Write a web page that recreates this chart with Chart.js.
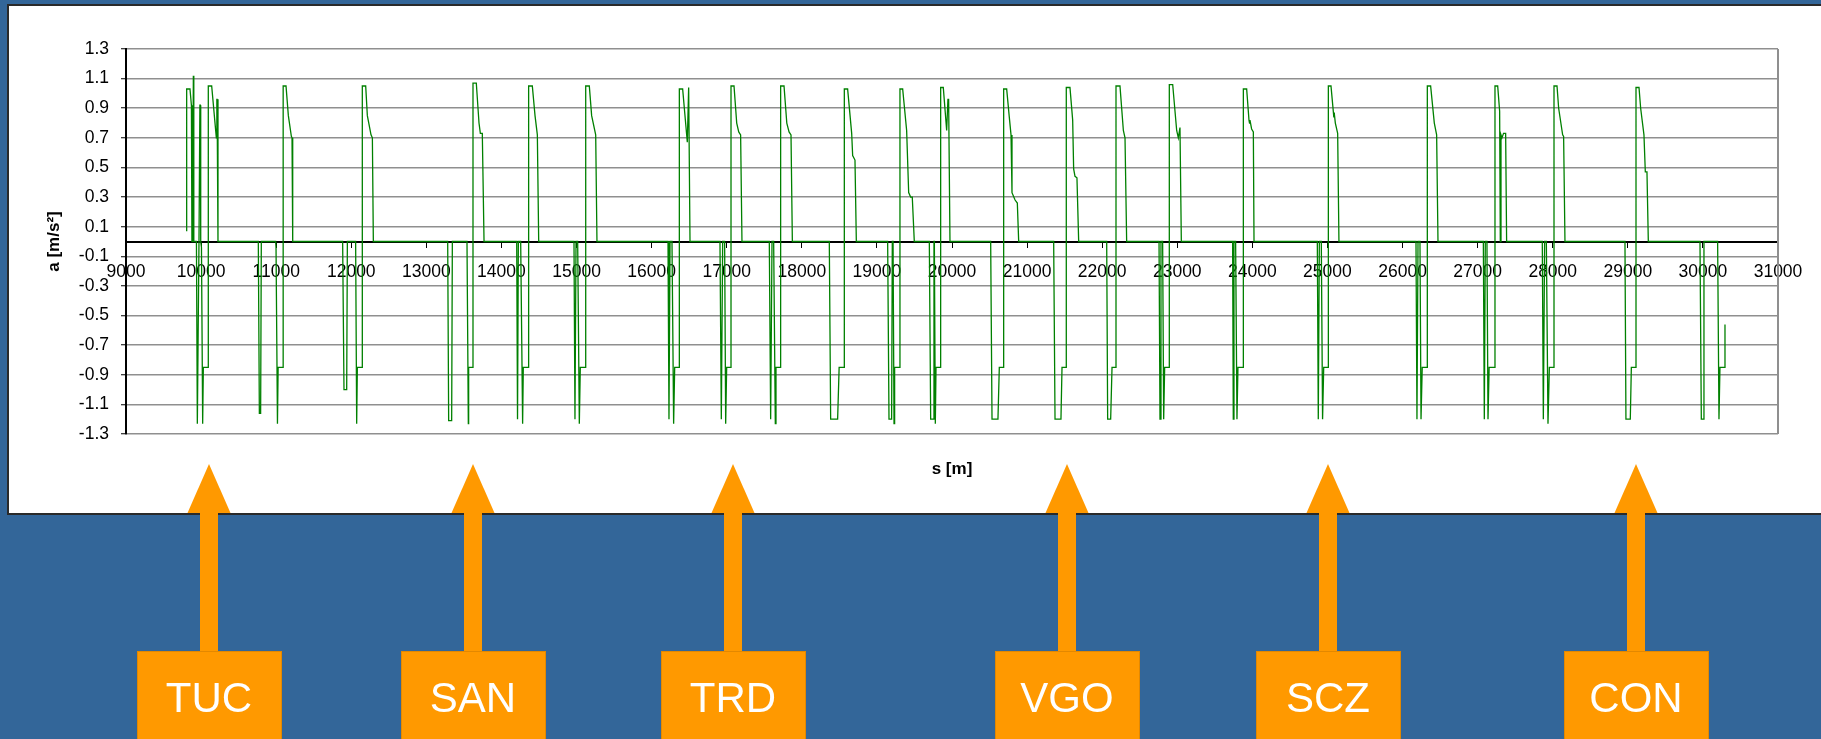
<!DOCTYPE html>
<html>
<head>
<meta charset="utf-8">
<script src="https://cdn.jsdelivr.net/npm/chart.js@4.4.0/dist/chart.umd.min.js"></script>
<style>
  html, body { margin: 0; padding: 0; width: 1821px; height: 739px; overflow: hidden; background: #336699; }
  #panel { position: absolute; left: 7px; top: 4px; width: 1830px; height: 507px; background: #ffffff; border: 2px solid #2a2a2a; }
  #chart { position: absolute; left: 0; top: 0; }
</style>
</head>
<body>
<div id="panel"></div>
<canvas id="chart" width="1821" height="739"></canvas>
<script>
// ---- data (distance s [m] and acceleration a [m/s²]) ----
const distance = [
  9808, 9808, 9852, 9871, 9878, 9888, 9897, 9903, 9938, 9950, 9972, 9984, 9990, 9995, 10005, 10021, 10030, 10096, 10096, 10141, 10203, 10210, 10213, 10225,
  10762, 10776, 10793, 10802, 10993, 10998, 11017, 11026, 11093, 11093, 11131, 11162, 11202, 11211, 11220,
  11885, 11903, 11939, 11948, 12058, 12072, 12081, 12147, 12147, 12192, 12214, 12263, 12281, 12294,
  13284, 13297, 13337, 13346, 13541, 13559, 13563, 13621, 13621, 13665, 13701, 13719, 13745, 13768,
  14203, 14214, 14225, 14256, 14282, 14291, 14362, 14362, 14411, 14447, 14478, 14496,
  14966, 14979, 14993, 15015, 15037, 15050, 15122, 15122, 15170, 15201, 15255, 15272,
  16218, 16231, 16245, 16271, 16293, 16307, 16369, 16369, 16413, 16475, 16493, 16511,
  16910, 16928, 16946, 16972, 16986, 16999, 17057, 17057, 17097, 17133, 17160, 17185, 17203,
  17567, 17585, 17603, 17625, 17647, 17656, 17718, 17718, 17763, 17800, 17830, 17856, 17874,
  18366, 18384, 18477, 18497, 18566, 18566, 18610, 18664, 18677, 18708, 18726,
  19143, 19161, 19196, 19205, 19215, 19228, 19236, 19307, 19307, 19343, 19396, 19423, 19449, 19471, 19498,
  19698, 19716, 19751, 19760, 19765, 19778, 19787, 19849, 19849, 19884, 19929, 19946, 19955, 19973,
  20515, 20533, 20612, 20630, 20688, 20688, 20728, 20763, 20786, 20799, 20840, 20870, 20888,
  21354, 21372, 21451, 21465, 21522, 21522, 21571, 21607, 21620, 21638, 21664, 21687,
  22060, 22073, 22113, 22131, 22184, 22184, 22237, 22282, 22304, 22326,
  22757, 22770, 22783, 22805, 22819, 22832, 22894, 22894, 22939, 22992, 23014, 23036, 23054,
  23737, 23746, 23755, 23777, 23795, 23808, 23880, 23880, 23924, 23955, 23962, 23968, 23990, 24013, 24022,
  24865, 24878, 24892, 24918, 24935, 24950, 25012, 25012, 25047, 25083, 25092, 25105, 25136, 25153,
  26179, 26192, 26206, 26232, 26246, 26262, 26330, 26330, 26374, 26423, 26454, 26472,
  27076, 27089, 27102, 27124, 27138, 27153, 27231, 27231, 27267, 27293, 27302, 27311, 27324, 27345, 27373, 27386,
  27861, 27875, 27892, 27915, 27937, 27955, 28017, 28017, 28057, 28079, 28132, 28145, 28163,
  28962, 28975, 29033, 29047, 29109, 29109, 29149, 29171, 29215, 29233, 29255, 29273,
  29961, 29979, 30005, 30014, 30196, 30214, 30227, 30294, 30294
];
const acceleration = [
  0.07, 1.03, 1.03, 0.92, 0, 0, 1.12, 0, 0, -1.23, 0, 0.92, 0.92, 0, -0.04, -1.23, -0.85, -0.85, 1.05, 1.05, 0.70, 0.96, 0.96, 0,
  0, -1.16, -1.16, 0, 0, -0.04, -1.23, -0.85, -0.85, 1.05, 1.05, 0.85, 0.71, 0.70, 0,
  0, -1.0, -1.0, 0, 0, -1.23, -0.85, -0.85, 1.05, 1.05, 0.85, 0.72, 0.70, 0,
  0, -1.21, -1.21, 0, 0, -1.23, -0.85, -0.85, 1.07, 1.07, 0.80, 0.73, 0.73, 0,
  0, -1.2, 0, 0, -1.23, -0.85, -0.85, 1.05, 1.05, 0.85, 0.72, 0,
  0, -1.2, 0, 0, -1.23, -0.85, -0.85, 1.05, 1.05, 0.85, 0.72, 0,
  0, -1.2, 0, 0, -1.23, -0.85, -0.85, 1.03, 1.03, 0.67, 1.04, 0,
  0, -1.2, 0, 0, -1.23, -0.85, -0.85, 1.05, 1.05, 0.80, 0.74, 0.72, 0,
  0, -1.2, 0, 0, -1.23, -0.85, -0.85, 1.05, 1.05, 0.80, 0.74, 0.72, 0,
  0, -1.2, -1.2, -0.85, -0.85, 1.03, 1.03, 0.73, 0.58, 0.55, 0,
  0, -1.2, -1.2, 0, 0, -1.23, -0.85, -0.85, 1.03, 1.03, 0.75, 0.33, 0.30, 0.30, 0,
  0, -1.2, -1.2, 0, 0, -1.23, -0.85, -0.85, 1.04, 1.04, 0.75, 0.96, 0.96, 0,
  0, -1.2, -1.2, -0.85, -0.85, 1.03, 1.03, 0.84, 0.72, 0.33, 0.28, 0.26, 0,
  0, -1.2, -1.2, -0.85, -0.85, 1.04, 1.04, 0.82, 0.49, 0.44, 0.43, 0,
  0, -1.2, -1.2, -0.85, -0.85, 1.05, 1.05, 0.75, 0.70, 0,
  0, -1.2, 0, 0, -1.2, -0.85, -0.85, 1.06, 1.06, 0.75, 0.70, 0.77, 0,
  0, -1.2, 0, 0, -1.2, -0.85, -0.85, 1.03, 1.03, 0.82, 0.80, 0.82, 0.76, 0.74, 0,
  0, -1.2, 0, 0, -1.2, -0.85, -0.85, 1.05, 1.05, 0.85, 0.86, 0.80, 0.73, 0,
  0, -1.2, 0, 0, -1.2, -0.85, -0.85, 1.05, 1.05, 0.80, 0.72, 0,
  0, -1.2, 0, 0, -1.2, -0.85, -0.85, 1.05, 1.05, 0.88, 0, 0.72, 0.70, 0.73, 0.73, 0,
  0, -1.2, 0, 0, -1.23, -0.85, -0.85, 1.05, 1.05, 0.90, 0.72, 0.71, 0,
  0, -1.2, -1.2, -0.85, -0.85, 1.04, 1.04, 0.90, 0.72, 0.47, 0.47, 0,
  0, -1.2, -1.2, 0, 0, -1.2, -0.85, -0.85, -0.56
];
const xTicks = [9000, 10000, 11000, 12000, 13000, 14000, 15000, 16000, 17000, 18000, 19000, 20000, 21000, 22000, 23000, 24000, 25000, 26000, 27000, 28000, 29000, 30000, 31000];
const yTicks = [-1.3, -1.1, -0.9, -0.7, -0.5, -0.3, -0.1, 0.1, 0.3, 0.5, 0.7, 0.9, 1.1, 1.3];
const stationNames = ['TUC', 'SAN', 'TRD', 'VGO', 'SCZ', 'CON'];
const stationDistance = [10100, 13625, 17080, 21525, 25005, 29105];

// ---- chart ----
const FONT = '"Liberation Sans", Arial, sans-serif';
const points = distance.map((s, i) => ({ x: s, y: acceleration[i] }));

const frame = {
  id: 'frame',
  beforeDatasetsDraw(chart) {
    const { ctx, chartArea } = chart;
    ctx.save();
    ctx.strokeStyle = '#8f8f8f';
    ctx.lineWidth = 2;
    ctx.beginPath();
    ctx.moveTo(chartArea.right, chartArea.top);
    ctx.lineTo(chartArea.right, chartArea.bottom);
    ctx.stroke();
    ctx.restore();
  }
};

const stations = {
  id: 'stations',
  afterDraw(chart) {
    const { ctx } = chart;
    const xs = chart.scales.x;
    ctx.save();
    stationNames.forEach((name, i) => {
      const cx = Math.round(xs.getPixelForValue(stationDistance[i]));
      ctx.fillStyle = '#FF9900';
      ctx.strokeStyle = '#E38800';
      ctx.lineWidth = 1;
      // shaft
      ctx.fillRect(cx - 9, 512, 18, 141);
      // head
      ctx.beginPath();
      ctx.moveTo(cx, 464);
      ctx.lineTo(cx + 21.5, 513);
      ctx.lineTo(cx - 21.5, 513);
      ctx.closePath();
      ctx.fill();
      // box
      ctx.fillRect(cx - 72, 651, 144, 100);
      ctx.strokeRect(cx - 72 + 0.5, 651.5, 144, 100);
      ctx.fillStyle = '#ffffff';
      ctx.font = '42px ' + FONT;
      ctx.textAlign = 'center';
      ctx.textBaseline = 'alphabetic';
      ctx.fillText(name, cx, 697 + 15);
    });
    ctx.restore();
  }
};

new Chart(document.getElementById('chart'), {
  type: 'line',
  data: {
    datasets: [{
      data: points,
      borderColor: '#008000',
      borderWidth: 1.3,
      pointRadius: 0,
      tension: 0,
      fill: false
    }]
  },
  options: {
    responsive: false,
    devicePixelRatio: 1,
    animation: false,
    layout: { padding: { left: 0, top: 49, right: 43, bottom: 259 } },
    plugins: { legend: { display: false }, tooltip: { enabled: false } },
    scales: {
      x: {
        type: 'linear',
        position: { y: 0 },
        min: 9000,
        max: 31000,
        afterBuildTicks: (s) => { s.ticks = xTicks.map(v => ({ value: v })); },
        ticks: {
          autoSkip: false, maxRotation: 0, padding: 15,
          color: '#000', font: { family: FONT, size: 17.5 },
          callback: (v) => String(v)
        },
        grid: { drawOnChartArea: false, drawTicks: true, tickLength: 5, tickColor: '#000', tickWidth: 1 },
        border: { display: true, color: '#000', width: 2 }
      },
      x2: {
        type: 'linear',
        position: 'bottom',
        display: true,
        ticks: { display: false },
        grid: { display: false, drawTicks: false },
        border: { display: false },
        title: { display: true, text: 's [m]', color: '#000', font: { family: FONT, size: 17, weight: 'bold' }, padding: { top: 0, bottom: 0 } },
        afterFit: (s) => { s.height = 46; }
      },
      y: {
        type: 'linear',
        position: 'left',
        min: -1.3,
        max: 1.3,
        afterBuildTicks: (s) => { s.ticks = yTicks.map(v => ({ value: v })); },
        ticks: {
          padding: 12, color: '#000', font: { family: FONT, size: 17.5 },
          callback: (v) => Number(v).toFixed(1)
        },
        grid: { color: '#8f8f8f', lineWidth: 1.5, drawTicks: true, tickLength: 5, tickColor: '#000', tickWidth: 1 },
        border: { display: true, color: '#000', width: 2 },
        title: { display: true, text: 'a [m/s²]', color: '#000', font: { family: FONT, size: 17, weight: 'bold' }, padding: { top: 44, bottom: 0 } },
        afterFit: (s) => { s.width = 126; }
      }
    }
  },
  plugins: [frame, stations]
});
</script>
</body>
</html>
